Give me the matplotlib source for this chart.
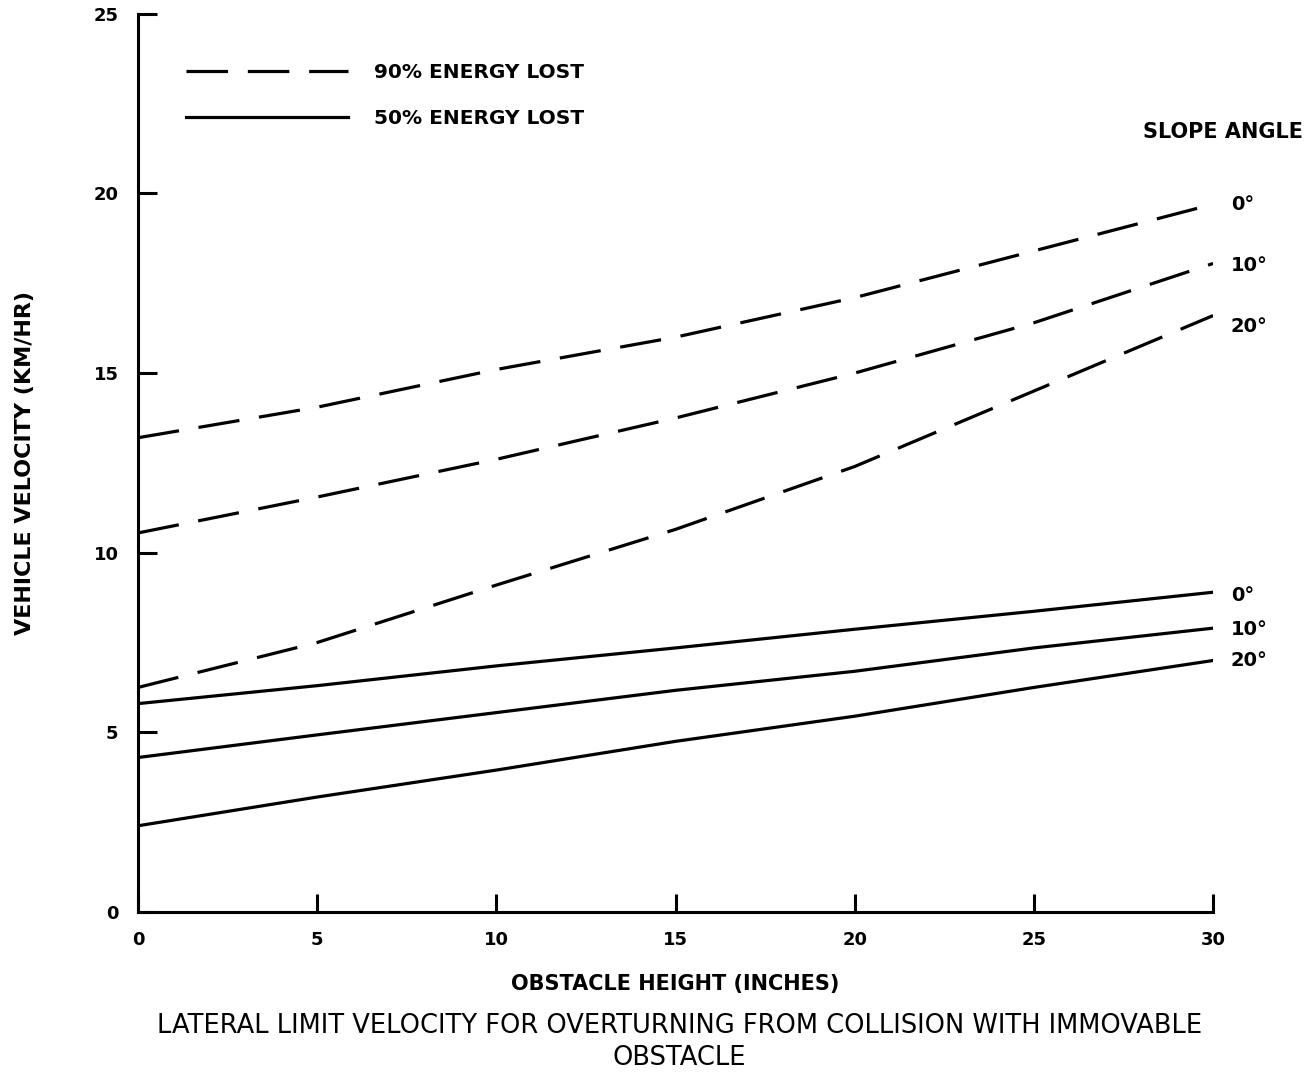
import matplotlib.pyplot as plt

# obstacle height (inches)
height = [0, 5, 10, 15, 20, 25, 30]

# 90% energy lost, by slope angle
v90_0 = [13.2, 14.05, 15.1, 16.0, 17.1, 18.4, 19.7]
v90_10 = [10.55, 11.55, 12.6, 13.75, 15.0, 16.4, 18.05]
v90_20 = [6.25, 7.5, 9.1, 10.65, 12.4, 14.5, 16.6]

# 50% energy lost, by slope angle
v50_0 = [5.8, 6.3, 6.85, 7.35, 7.87, 8.37, 8.9]
v50_10 = [4.3, 4.93, 5.55, 6.17, 6.7, 7.35, 7.9]
v50_20 = [2.4, 3.2, 3.95, 4.75, 5.45, 6.25, 7.0]

slope_labels = ['0°', '10°', '20°']

fig = plt.figure(figsize=(13.12, 10.77), dpi=100)
ax = fig.add_axes([0.1052, 0.1532, 0.8194, 0.834])

dash = (0, (13, 6.2))
lw = 2.3
ax.plot(height, v90_0, color='black', lw=lw, linestyle=dash, label='90% ENERGY LOST')
ax.plot(height, v90_10, color='black', lw=lw, linestyle=dash)
ax.plot(height, v90_20, color='black', lw=lw, linestyle=dash)
ax.plot(height, v50_0, color='black', lw=lw, label='50% ENERGY LOST')
ax.plot(height, v50_10, color='black', lw=lw)
ax.plot(height, v50_20, color='black', lw=lw)

ax.set_xlim(0, 30)
ax.set_ylim(0, 25)
ax.set_xticks([0, 5, 10, 15, 20, 25, 30])
ax.set_yticks([0, 5, 10, 15, 20, 25])
ax.spines['top'].set_visible(False)
ax.spines['right'].set_visible(False)
for s in ['left', 'bottom']:
    ax.spines[s].set_linewidth(2.2)
ax.tick_params(axis='both', direction='in', width=2.2, labelsize=13)
ax.tick_params(axis='y', length=14, pad=14)
ax.tick_params(axis='x', length=13, pad=14)
for t in ax.get_xticklabels() + ax.get_yticklabels():
    t.set_fontweight('bold')

ax.legend(loc='upper left', bbox_to_anchor=(0.045, 0.945), frameon=False,
          handlelength=8, handletextpad=1.3, labelspacing=1.35,
          borderpad=0, borderaxespad=0,
          prop={'weight': 'bold', 'size': 14.5})

# slope angle labels
ax.text(28.05, 21.7, 'SLOPE ANGLE', fontsize=15, fontweight='bold', va='center', clip_on=False)
for y, lab in zip([19.7, 18.0, 16.3], slope_labels):
    ax.text(30.5, y, lab, fontsize=14, fontweight='bold', va='center', clip_on=False)
for y, lab in zip([8.8, 7.85, 7.0], slope_labels):
    ax.text(30.5, y, lab, fontsize=14, fontweight='bold', va='center', clip_on=False)

ax.set_xlabel('OBSTACLE HEIGHT (INCHES)', fontsize=15, fontweight='bold', labelpad=18)
ax.set_ylabel('VEHICLE VELOCITY (KM/HR)', fontsize=16, fontweight='bold', labelpad=42)

fig.text(0.518, 1 - 1013 / 1077,
         'LATERAL LIMIT VELOCITY FOR OVERTURNING FROM COLLISION WITH IMMOVABLE\nOBSTACLE',
         ha='center', va='top', fontsize=18.5, linespacing=1.3)

fig.savefig('out.png', dpi=100)
